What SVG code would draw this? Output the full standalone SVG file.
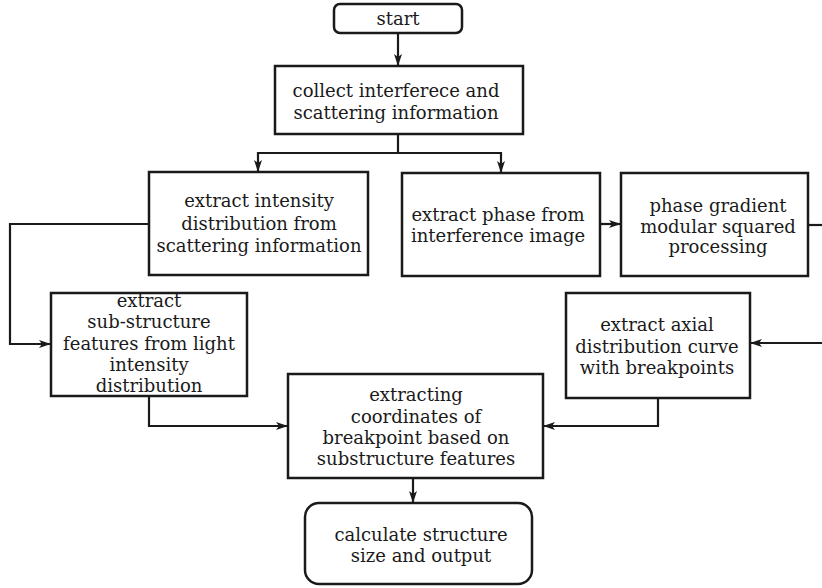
<svg xmlns="http://www.w3.org/2000/svg" width="822" height="588" viewBox="0 0 822 588">
<defs>
<style>
.box{fill:#fff;stroke:#1a1a1a;stroke-width:2.5}
.t{font-family:"DejaVu Serif","Liberation Serif",serif;font-size:18px;fill:#1a1a1a;text-anchor:middle}
.c{fill:none;stroke:#1a1a1a;stroke-width:2.2}
</style>
<marker id="ah" viewBox="0 0 12 8" refX="12" refY="4" markerWidth="12" markerHeight="8" markerUnits="userSpaceOnUse" orient="auto">
<path d="M0,0 L12,4 L0,8 L3,4 Z" fill="#1a1a1a"/>
</marker>
</defs>
<rect width="822" height="588" fill="#fff"/>
<g id="start"><rect class="box" x="334" y="4" width="128" height="29" rx="6"/><text class="t" x="398" y="25">start</text></g>
<g id="collect"><rect class="box" x="275" y="66" width="248" height="68"/><text class="t" x="396" y="97">collect interferece and</text><text class="t" x="396" y="119">scattering information</text></g>
<g id="intensity"><rect class="box" x="149" y="172" width="219" height="103"/><text class="t" x="259" y="207">extract intensity</text><text class="t" x="259" y="230">distribution from</text><text class="t" x="259" y="252">scattering information</text></g>
<g id="phase"><rect class="box" x="402" y="173" width="198" height="103"/><text class="t" x="498" y="221">extract phase from</text><text class="t" x="498" y="242">interference image</text></g>
<g id="gradient"><rect class="box" x="621" y="173" width="187" height="103"/><text class="t" x="718" y="212">phase gradient</text><text class="t" x="718" y="233">modular squared</text><text class="t" x="718" y="253">processing</text></g>
<g id="substructure"><rect class="box" x="51" y="293" width="196" height="103"/><text class="t" x="149" y="307">extract</text><text class="t" x="149" y="328">sub-structure</text><text class="t" x="149" y="350">features from light</text><text class="t" x="149" y="371">intensity</text><text class="t" x="149" y="392">distribution</text></g>
<g id="axial"><rect class="box" x="566" y="293" width="184" height="105"/><text class="t" x="657" y="331">extract axial</text><text class="t" x="657" y="353">distribution curve</text><text class="t" x="657" y="374">with breakpoints</text></g>
<g id="coords"><rect class="box" x="288" y="374" width="255" height="104"/><text class="t" x="416" y="401">extracting</text><text class="t" x="416" y="423">coordinates of</text><text class="t" x="416" y="444">breakpoint based on</text><text class="t" x="416" y="465">substructure features</text></g>
<g id="calc"><rect class="box" x="305" y="503" width="227" height="81" rx="14"/><text class="t" x="421" y="541">calculate structure</text><text class="t" x="421" y="562">size and output</text></g>
<g id="connectors">
<path class="c" d="M398,33 V66" marker-end="url(#ah)"/>
<path class="c" d="M398,134 V153 H258 V172" marker-end="url(#ah)"/>
<path class="c" d="M398,153 H501 V173" marker-end="url(#ah)"/>
<path class="c" d="M600,224 H621" marker-end="url(#ah)"/>
<path class="c" d="M808,225 H822"/>
<path class="c" d="M822,343 H750" marker-end="url(#ah)"/>
<path class="c" d="M149,224 H10 V344 H51" marker-end="url(#ah)"/>
<path class="c" d="M149,396 V426 H288" marker-end="url(#ah)"/>
<path class="c" d="M658,398 V426 H543" marker-end="url(#ah)"/>
<path class="c" d="M413,478 V503" marker-end="url(#ah)"/>
</g>
</svg>
